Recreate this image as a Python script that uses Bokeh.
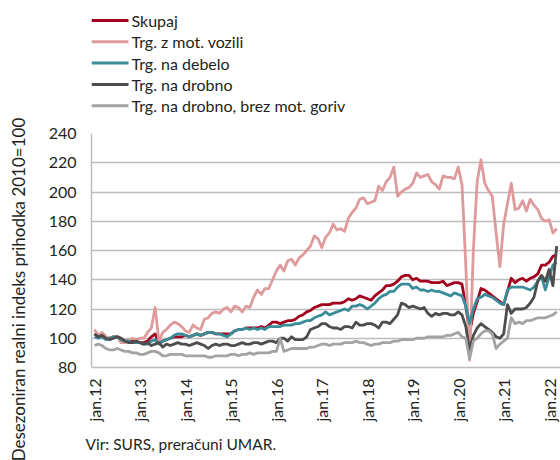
from math import pi
from bokeh.plotting import figure
from bokeh.models import Range1d, FixedTicker, Title
from bokeh.layouts import row, column
from bokeh.core.properties import value
from bokeh.embed import file_html
from bokeh.resources import INLINE

# monthly index: 0 = jan 2012 ... 122 = mar 2022
tick_months = [0, 12, 24, 36, 48, 60, 72, 84, 96, 108, 120]
tick_labels = ["jan.12", "jan.13", "jan.14", "jan.15", "jan.16", "jan.17",
               "jan.18", "jan.19", "jan.20", "jan.21", "jan.22"]
y_ticks = [80, 100, 120, 140, 160, 180, 200, 220, 240]

skupaj = [
    103, 101, 102, 100, 100, 101, 101, 100, 98, 98, 98, 97,
    97, 97, 98, 101, 103, 97, 98, 99, 100, 101, 101, 101,
    102, 101, 102, 103, 102, 103, 104, 104, 103, 103, 103, 103,
    103, 105, 106, 106, 107, 107, 107, 107, 108, 107, 109, 111,
    111, 110, 111, 112, 112, 113, 115, 116, 118, 119, 121, 122,
    123, 123, 123, 124, 124, 124, 125, 127, 126, 127, 129, 128,
    127, 126, 129, 131, 133, 136, 136, 137, 139, 142, 143, 143,
    140, 141, 139, 139, 139, 138, 138, 138, 139, 136, 137, 138,
    138, 137, 122, 104, 117, 125, 134, 133, 131, 129, 127, 125,
    123, 132, 141, 138, 140, 141, 139, 141, 142, 144, 150, 150,
    152, 156, 157,
]
mot_vozila = [
    106, 102, 104, 101, 100, 101, 101, 97, 97, 99, 100, 99,
    100, 100, 104, 107, 121, 98, 104, 106, 109, 111, 110, 108,
    105, 104, 109, 107, 106, 113, 114, 117, 118, 117, 120, 121,
    118, 122, 121, 118, 122, 121, 128, 133, 130, 134, 134, 140,
    146, 150, 146, 153, 154, 150, 155, 157, 160, 163, 170, 168,
    162, 169, 172, 178, 174, 175, 173, 182, 186, 189, 195, 196,
    192, 193, 194, 204, 201, 207, 210, 217, 197, 200, 202, 203,
    206, 213, 210, 211, 212, 207, 205, 202, 211, 210, 210, 209,
    217, 205, 150, 85, 160, 207, 222, 206, 201, 197, 172, 149,
    178, 192, 206, 188, 189, 194, 187, 195, 191, 188, 182, 180,
    181, 172, 175,
]
debelo = [
    101, 100, 101, 99, 100, 101, 101, 99, 98, 98, 97, 97,
    97, 96, 96, 98, 99, 96, 98, 99, 100, 102, 103, 103,
    102, 101, 102, 103, 102, 103, 104, 104, 103, 103, 102, 101,
    103, 105, 106, 106, 107, 106, 107, 106, 107, 106, 108, 108,
    108, 108, 109, 109, 109, 110, 110, 111, 112, 112, 114, 115,
    116, 118, 116, 117, 118, 119, 120, 119, 122, 122, 123, 122,
    120, 122, 124, 127, 129, 130, 132, 132, 135, 137, 137, 137,
    134, 135, 133, 133, 132, 133, 132, 132, 131, 130, 129, 131,
    130, 129, 122, 110, 120, 127, 128, 130, 129, 128, 126, 124,
    123, 133, 135, 135, 135, 135, 134, 133, 135, 139, 142, 133,
    142, 150, 152,
]
drobno = [
    103, 101, 102, 100, 99, 100, 101, 100, 98, 97, 97, 98,
    97, 96, 97, 95, 96, 97, 94, 96, 95, 96, 97, 96,
    96, 95, 96, 97, 96, 95, 93, 95, 96, 95, 96, 96,
    95, 95, 96, 97, 96, 96, 97, 97, 96, 97, 98, 98,
    97, 100, 100, 98, 101, 99, 99, 99, 101, 106, 107, 108,
    110, 110, 108, 107, 107, 106, 108, 108, 107, 111, 109, 109,
    110, 110, 109, 107, 111, 111, 110, 113, 116, 124, 123, 121,
    122, 121, 120, 121, 117, 115, 117, 116, 117, 117, 116, 116,
    118, 116, 108, 92, 102, 107, 110, 108, 106, 104, 101, 100,
    103, 123, 117, 120, 120, 120, 121, 124, 128, 139, 143, 139,
    147, 136, 163,
]
drobno_brez_goriv = [
    95, 96, 95, 93, 92, 92, 93, 92, 91, 91, 90, 90,
    89, 89, 90, 91, 91, 90, 88, 88, 89, 89, 89, 89,
    88, 88, 88, 88, 88, 88, 87, 87, 88, 88, 88, 88,
    89, 89, 88, 89, 89, 90, 89, 90, 90, 90, 90, 91,
    91, 100, 91, 92, 93, 93, 93, 93, 93, 94, 94, 95,
    96, 96, 95, 96, 96, 96, 97, 97, 97, 98, 97, 97,
    96, 95, 96, 96, 97, 97, 97, 98, 98, 99, 99, 99,
    99, 100, 100, 100, 101, 101, 101, 101, 101, 102, 102, 103,
    104, 101, 100, 86, 98, 100, 103, 105, 105, 103, 93, 96,
    98, 100, 114, 110, 111, 110, 112, 112, 113, 114, 114, 114,
    115, 116, 118,
]
months = list(range(len(skupaj)))

series_names = ["Skupaj", "Trg. z mot. vozili", "Trg. na debelo",
                "Trg. na drobno", "Trg. na drobno, brez mot. goriv"]
series_vals = [skupaj, mot_vozila, debelo, drobno, drobno_brez_goriv]
series_colors = ["#a3001e", "#df9a9b", "#3a8d98", "#4d4d4d", "#a3a3a3"]
y_title = "Desezoniran realni indeks prihodka 2010=100"
source_text = "Vir: SURS, preračuni UMAR."

FONT = "Lato"
TXT = "#231f20"
GRID = "#bdbdbd"


def blank(w, h):
    f = figure(frame_width=w, frame_height=h, output_backend="svg",
               toolbar_location=None,
               x_range=Range1d(0, w), y_range=Range1d(h, 0),
               min_border=0, min_border_left=0, min_border_right=0,
               min_border_top=0, min_border_bottom=0,
               x_axis_location=None, y_axis_location=None)
    f.grid.visible = False
    f.outline_line_color = None
    f.background_fill_color = "white"
    f.border_fill_color = "white"
    return f


# --- y-axis title (left strip) ---
tf = blank(30, 460)
tf.text(x=[17.5], y=[289], text=[y_title], angle=pi / 2, text_align="center",
        text_baseline="middle", text_font=value(FONT), text_font_size="17px",
        text_color=TXT)

# --- legend (top strip; its frame is aligned with the chart frame) ---
lf = blank(469, 124)
row_y = [20, 41.3, 62.6, 84, 105.3]
lf.segment(x0=[0] * 5, x1=[37] * 5, y0=row_y, y1=row_y,
           line_color=series_colors, line_width=3)
lf.text(x=[40] * 5, y=row_y, text=series_names, text_align="left",
        text_baseline="middle", text_font=value(FONT), text_font_size="16px",
        text_color=TXT)

# --- chart ---
p = figure(width=530, height=336, output_backend="svg", toolbar_location=None,
           x_range=Range1d(-0.8, 123.0), y_range=Range1d(80, 240),
           min_border_left=61, min_border_right=0, min_border_top=9,
           min_border_bottom=82)
p.outline_line_color = None
p.background_fill_color = "white"
p.border_fill_color = "white"

for vals, col in zip(series_vals, series_colors):
    p.line(months, vals, line_color=col, line_width=2.8, line_join="round")

p.xgrid.visible = False
p.ygrid.grid_line_color = GRID
p.ygrid.grid_line_width = 1.5

p.xaxis.ticker = FixedTicker(ticks=tick_months)
p.xaxis.major_label_overrides = {m: l for m, l in zip(tick_months, tick_labels)}
p.xaxis.major_label_orientation = pi / 2
p.yaxis.ticker = FixedTicker(ticks=y_ticks)

for ax in (p.xaxis, p.yaxis):
    ax.axis_line_color = GRID
    ax.axis_line_width = 1.5
    ax.major_tick_line_color = None
    ax.minor_tick_line_color = None
    ax.major_tick_out = 0
    ax.major_tick_in = 0
    ax.minor_tick_out = 0
    ax.minor_tick_in = 0
    ax.major_label_text_font = FONT
    ax.major_label_text_font_size = "16px"
    ax.major_label_text_color = TXT
p.yaxis.major_label_standoff = 15
p.xaxis.major_label_standoff = 11

source = Title(text=source_text, align="left", offset=-6, standoff=16,
               text_font=FONT, text_font_size="15.5px",
               text_font_style="normal", text_color=TXT)
p.add_layout(source, "below")

layout = row(tf, column(lf, p))
open("out.html", "w").write(file_html(layout, INLINE))
